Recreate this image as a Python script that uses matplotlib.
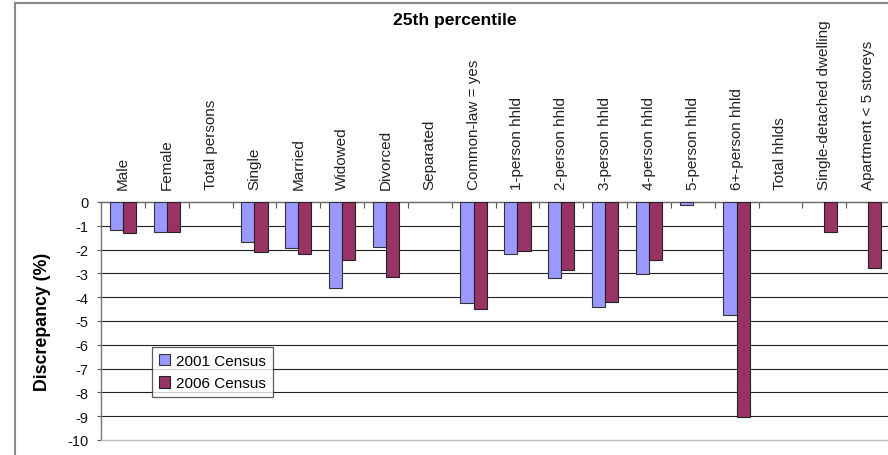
import numpy as np
import matplotlib
matplotlib.use("Agg")
import matplotlib.pyplot as plt
from matplotlib.lines import Line2D

categories = ["Male", "Female", "Total persons", "Single", "Married", "Widowed",
              "Divorced", "Separated", "Common-law = yes", "1-person hhld",
              "2-person hhld", "3-person hhld", "4-person hhld", "5-person hhld",
              "6+-person hhld", "Total hhlds", "Single-detached dwelling",
              "Apartment < 5 storeys"]
census_2001 = [-1.17, -1.27, np.nan, -1.67, -1.95, -3.63, -1.91, np.nan, -4.23,
               -2.19, -3.19, -4.42, -3.01, -0.14, -4.74, np.nan, np.nan, np.nan]
census_2006 = [-1.32, -1.27, np.nan, -2.08, -2.17, -2.43, -3.15, np.nan, -4.49,
               -2.07, -2.87, -4.19, -2.43, np.nan, -9.04, np.nan, -1.24, -2.76]
series_labels = ["2001 Census", "2006 Census"]
yticks = list(range(0, -11, -1))

plt.rcParams['font.family'] = ['Liberation Sans', 'DejaVu Sans']

W, H = 888, 456
fig = plt.figure(figsize=(W / 100, H / 100), dpi=100)
ax = fig.add_axes([101 / W, (H - 441) / H, 789 / W, 238 / H])

x = np.arange(len(categories))
bw = 0.3
c1, c2 = '#9999FF', '#993366'
ax.bar(x - bw / 2, census_2001, bw, color=c1, edgecolor='#333333', linewidth=0.8,
       label=series_labels[0], zorder=3)
ax.bar(x + bw / 2, census_2006, bw, color=c2, edgecolor='#222222', linewidth=0.8,
       label=series_labels[1], zorder=3)

ax.set_xlim(-0.5, len(categories) - 0.5)
ax.set_ylim(-10, 0)
ax.set_yticks(yticks)
ax.set_yticklabels([str(v) for v in yticks])
for v in yticks[1:-1]:
    ax.axhline(v, color='#222222', linewidth=0.8, zorder=1)

# x axis at top (zero line)
ax.xaxis.tick_top()
ax.set_xticks(x)
ax.set_xticklabels(categories, rotation=90, fontsize=11, color='#222222')
ax.set_xticks(np.arange(-0.5, len(categories)), minor=True)
ax.tick_params(axis='x', which='major', length=0, pad=9.5)
ax.tick_params(axis='x', which='minor', direction='in', length=4.5, width=0.8,
               color='#555555', top=True, bottom=False)
ax.tick_params(axis='y', direction='out', length=3, width=0.8, color='#555555',
               labelsize=10.5, pad=6, labelcolor='#111111')

ax.spines['top'].set_color('#666666')
ax.spines['top'].set_linewidth(1.0)
ax.spines['left'].set_color('#777777')
ax.spines['left'].set_linewidth(1.0)
ax.spines['right'].set_visible(False)
ax.spines['bottom'].set_color('#bbbbbb')
ax.spines['bottom'].set_linestyle((0, (1, 1)))
ax.spines['bottom'].set_linewidth(1.0)

ax.set_ylabel("Discrepancy (%)", fontsize=12.8, fontweight='bold')
ax.yaxis.set_label_coords(-50 / 789, 0.5)

leg = ax.legend(loc='upper left', bbox_to_anchor=((152 - 101) / 789, 1 - (348 - 203) / 238),
                fontsize=11, frameon=True, fancybox=False, edgecolor='#333333',
                handlelength=0.75, handleheight=0.75, handletextpad=0.4,
                borderpad=0.45, labelspacing=0.55, borderaxespad=0)
leg.get_frame().set_linewidth(0.9)

fig.text(455 / W, 1 - 20 / H, "25th percentile", ha='center', va='center',
         fontsize=12.6, fontweight='bold')

# outer chart border (top and left)
fig.add_artist(Line2D([15 / W, 15 / W], [0, 1 - 4 / H], transform=fig.transFigure,
                      color='#8a8a8a', linewidth=1.5))
fig.add_artist(Line2D([15 / W, 1], [1 - 4 / H, 1 - 4 / H], transform=fig.transFigure,
                      color='#8a8a8a', linewidth=1.5))

fig.savefig("out.png", dpi=100)
